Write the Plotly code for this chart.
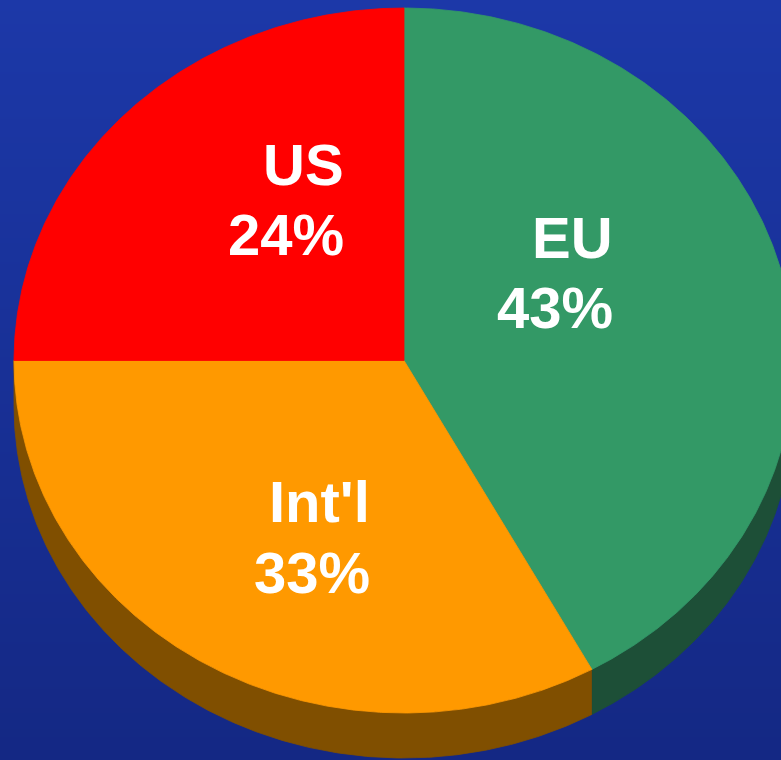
import numpy as np
import plotly.graph_objects as go

# ---- data ----
regions = ["EU", "Int'l", "US"]
slice_shares = [42, 33, 25]
# percentage labels as printed on the chart
pct_labels = ["43%", "33%", "24%"]

# ---- styles ----
top_colors = ["#339966", "#ff9900", "#ff0000"]
side_colors = ["#1d4f37", "#804f00", "#800000"]
bg_top, bg_bottom = "#1c38a8", "#142884"

W, H = 781, 760
CX, CY, RX, RY, DEPTH = 404, 360.5, 390, 352.5, 45
# label layout: right edge x, name line centre y, percent line centre y
label_layout = [(614, 237, 307.5), (371, 501, 572), (345, 164, 234.5)]
FONT = dict(family="Arial, Liberation Sans, sans-serif", size=58, color="white", weight="bold")


def pt(theta_deg, dy=0.0):
    t = np.radians(theta_deg)
    return CX + RX * np.sin(t), CY - RY * np.cos(t) + dy


fig = go.Figure()

# background gradient
ys = np.linspace(0, H, 40)
fig.add_trace(go.Heatmap(x=[0, W], y=ys, z=[[v, v] for v in ys],
                         colorscale=[[0, bg_top], [1, bg_bottom]],
                         showscale=False, hoverinfo="skip", zsmooth="best"))

total = float(sum(slice_shares))
bounds = np.concatenate([[0], np.cumsum(slice_shares)]) / total * 360.0

# visible side walls (front half: 90..270 deg)
for i in range(len(slice_shares)):
    a, b = max(bounds[i], 90), min(bounds[i + 1], 270)
    if b <= a:
        continue
    th = np.linspace(a, b, 240)
    x1, y1 = pt(th)
    x2, y2 = pt(th[::-1], DEPTH)
    fig.add_trace(go.Scatter(x=np.r_[x1, x2], y=np.r_[y1, y2], fill="toself",
                             fillcolor=side_colors[i], mode="lines",
                             line=dict(width=0.8, color=side_colors[i]),
                             hoverinfo="skip", showlegend=False))

# top faces
for i in range(len(slice_shares)):
    th = np.linspace(bounds[i], bounds[i + 1], 360)
    x, y = pt(th)
    fig.add_trace(go.Scatter(x=np.r_[CX, x, CX], y=np.r_[CY, y, CY], fill="toself",
                             fillcolor=top_colors[i], mode="lines",
                             line=dict(width=0.8, color=top_colors[i]),
                             hoverinfo="skip", showlegend=False))

for i in range(len(regions)):
    xr, yn, yp = label_layout[i]
    fig.add_annotation(x=xr, y=yn, text=regions[i], xanchor="right", yanchor="middle",
                       showarrow=False, font=FONT, borderpad=0)
    fig.add_annotation(x=xr, y=yp, text=pct_labels[i], xanchor="right", yanchor="middle",
                       showarrow=False, font=FONT, borderpad=0)

fig.update_layout(width=W, height=H, margin=dict(l=0, r=0, t=0, b=0),
                  paper_bgcolor=bg_bottom, plot_bgcolor=bg_bottom, showlegend=False,
                  xaxis=dict(range=[0, W], visible=False, fixedrange=True),
                  yaxis=dict(range=[H, 0], visible=False, fixedrange=True))

fig.write_html("out.html", config={"displayModeBar": False},
               post_script="document.body.style.margin='0';")
